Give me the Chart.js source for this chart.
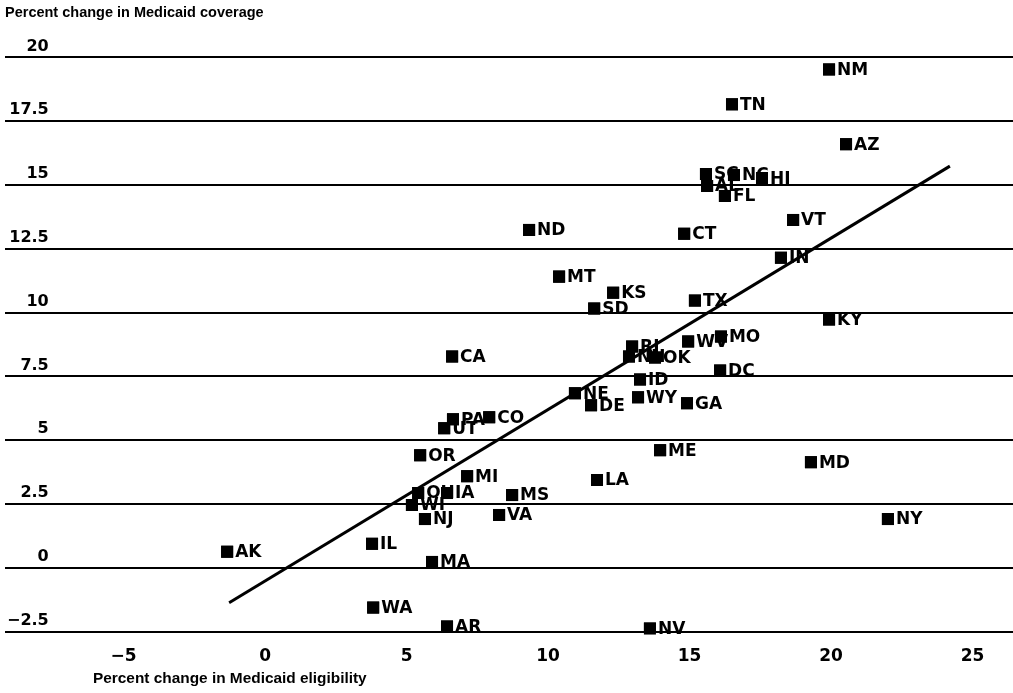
<!DOCTYPE html>
<html>
<head>
<meta charset="utf-8">
<script src="https://cdn.jsdelivr.net/npm/chart.js@4"></script>
<style>
  html, body { margin: 0; padding: 0; background: #fff; }
  #wrap { width: 1013px; height: 693px; position: relative; }
</style>
</head>
<body>
<div id="wrap"><canvas id="medicaidScatter"></canvas></div>
<script>
// Medicaid eligibility vs coverage change, by state

// order matters: later squares sit on top of earlier labels
const states = ['ND','CT','MT','KS','TX','SD','MO','WV','CA','RI','NH','OK','ID','DC','NE','DE','WY','GA',
  'UT','PA','CO','ME','OR','MD','MI','LA','OH','IA','MS','WI','NJ','VA','NY','AK','IL','MA','WA','AR','NV',
  'NM','TN','AZ','SC','AL','NC','HI','FL','VT','IN','KY'];
const eligibility = [9.33,14.81,10.39,12.30,15.19,11.63,16.11,14.95,6.61,12.97,12.86,13.78,13.25,16.08,10.95,11.52,13.18,14.91,
  6.33,6.64,7.92,13.96,5.48,19.29,7.14,11.73,5.41,6.43,8.73,5.19,5.65,8.27,22.01,-1.34,3.78,5.90,3.82,6.43,13.60,
  19.93,16.50,20.53,15.58,15.62,16.57,17.56,16.25,18.66,18.23,19.93];
const coverage = [13.24,13.09,11.41,10.78,10.47,10.16,9.06,8.87,8.28,8.67,8.28,8.24,7.38,7.73,6.84,6.37,6.68,6.45,
  5.47,5.82,5.90,4.61,4.41,4.14,3.59,3.44,2.93,2.93,2.85,2.46,1.91,2.07,1.91,0.63,0.94,0.23,-1.56,-2.30,-2.38,
  19.53,18.16,16.60,15.43,14.96,15.39,15.27,14.57,13.63,12.15,9.73];

// fitted line endpoints
const trendX = [-1.27, 24.2];
const trendY = [-1.37, 15.74];

const xTicks = [-5, 0, 5, 10, 15, 20, 25];
const yTicks = [-2.5, 0, 2.5, 5, 7.5, 10, 12.5, 15, 17.5, 20];

const fmt = v => v < 0 ? '\u2212' + Math.abs(v) : String(v);

const labelPlugin = {
  id: 'stateLabels',
  afterDatasetsDraw(chart) {
    const meta = chart.getDatasetMeta(1);
    const ctx = chart.ctx;
    ctx.save();
    ctx.font = 'bold 17px "DejaVu Sans"';
    ctx.textAlign = 'left';
    ctx.textBaseline = 'middle';
    ctx.fillStyle = '#000';
    meta.data.forEach((pt, i) => {
      pt.draw(ctx);
      ctx.fillText(states[i], pt.x + 8, pt.y + 1);
    });
    ctx.restore();
  },
  afterDraw(chart) {
    const ctx = chart.ctx;
    ctx.save();
    ctx.font = 'bold 15.4px "Liberation Sans"';
    ctx.fillStyle = '#000';
    ctx.textBaseline = 'middle';
    ctx.fillText('Percent change in Medicaid eligibility', 93, 679);
    ctx.restore();
  }
};

new Chart(document.getElementById('medicaidScatter'), {
  data: {
    datasets: [
      {
        type: 'line',
        data: trendX.map((x, i) => ({ x, y: trendY[i] })),
        borderColor: '#000', borderWidth: 3, pointRadius: 0, fill: false, order: 2
      },
      {
        type: 'scatter',
        data: eligibility.map((x, i) => ({ x, y: coverage[i] })),
        pointStyle: 'rect', pointRadius: 8.5, pointHoverRadius: 8.5,
        backgroundColor: '#000', borderWidth: 0, order: 1
      }
    ]
  },
  options: {
    responsive: true, maintainAspectRatio: false, animation: false,
    layout: { autoPadding: false, padding: { left: 5, right: 0, top: 0, bottom: 11 } },
    plugins: {
      legend: { display: false }, tooltip: { enabled: false },
      title: {
        display: true, text: 'Percent change in Medicaid coverage', align: 'start', color: '#000',
        font: { family: 'Liberation Sans', size: 14.5, weight: 'bold' }, padding: { top: 4, bottom: 36 }
      }
    },
    scales: {
      x: {
        type: 'linear', min: -9.19, max: 26.43,
        afterBuildTicks: axis => { axis.ticks = xTicks.map(v => ({ value: v })); },
        afterFit: axis => { axis.paddingLeft = 0; axis.paddingRight = 0; },
        grid: { display: false, drawTicks: false }, border: { display: false },
        ticks: { color: '#000', padding: 15, callback: fmt, font: { family: 'DejaVu Sans', size: 17, weight: 'bold' } }
      },
      y: {
        type: 'linear', min: -2.5, max: 20,
        afterBuildTicks: axis => { axis.ticks = yTicks.map(v => ({ value: v })); },
        afterFit: axis => { axis.width = 0; },
        grid: { color: '#000', lineWidth: 2, drawTicks: false }, border: { display: false },
        ticks: { color: '#000', mirror: true, crossAlign: 'far', padding: 2, labelOffset: -11, callback: fmt,
                 font: { family: 'DejaVu Sans', size: 16, weight: 'bold' } }
      }
    }
  },
  plugins: [labelPlugin]
});
</script>
</body>
</html>
